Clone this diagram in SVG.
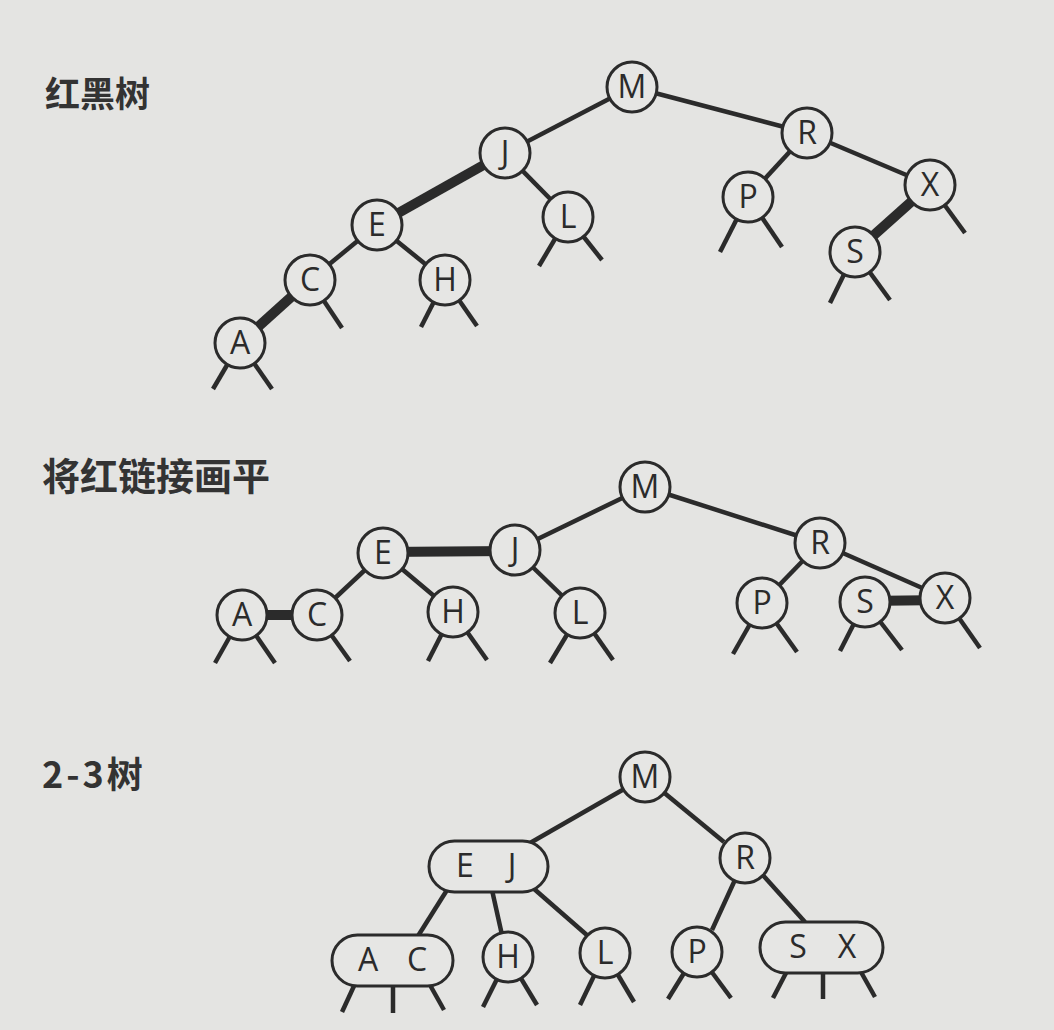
<svg xmlns="http://www.w3.org/2000/svg" width="1054" height="1030" viewBox="0 0 1054 1030">
<style>
.bg{fill:#e4e4e2}
.e{stroke:#2b2b2b;stroke-width:4.5;stroke-linecap:butt;fill:none}
.r{stroke:#2b2b2b;stroke-width:10;fill:none}
.n{fill:#e6e6e4;stroke:#2b2b2b;stroke-width:3}
.t{font-family:"Open Sans","DejaVu Sans",sans-serif;font-size:32px;fill:#2b2b2b;text-anchor:middle}
.h{font-family:"Noto Sans CJK SC","Noto Sans",sans-serif;font-weight:bold;fill:#333}
</style>
<rect class="bg" x="0" y="0" width="1054" height="1030"/>
<g id="labels">
<text class="h" x="45" y="107" font-size="35">红黑树</text>
<text class="h" x="42" y="490" font-size="38">将红链接画平</text>
<text class="h" x="42" y="788" font-size="36" letter-spacing="3">2-3树</text>
</g>
<g id="connectors">
<!-- top tree -->
<line class="e" x1="632" y1="87" x2="505" y2="153"/>
<line class="e" x1="632" y1="87" x2="807" y2="133"/>
<line class="r" x1="505" y1="153" x2="377" y2="225"/>
<line class="e" x1="505" y1="153" x2="568" y2="217"/>
<line class="e" x1="377" y1="225" x2="310" y2="280"/>
<line class="e" x1="377" y1="225" x2="445" y2="280"/>
<line class="r" x1="310" y1="280" x2="240" y2="343"/>
<line class="e" x1="807" y1="133" x2="748" y2="197"/>
<line class="e" x1="807" y1="133" x2="930" y2="185"/>
<line class="r" x1="930" y1="185" x2="855" y2="252"/>
<!-- top stubs -->
<line class="e" x1="240" y1="343" x2="213" y2="389"/>
<line class="e" x1="240" y1="343" x2="272" y2="389"/>
<line class="e" x1="310" y1="280" x2="342" y2="328"/>
<line class="e" x1="445" y1="280" x2="421" y2="327"/>
<line class="e" x1="445" y1="280" x2="477" y2="326"/>
<line class="e" x1="568" y1="217" x2="539" y2="266"/>
<line class="e" x1="568" y1="217" x2="602" y2="260"/>
<line class="e" x1="748" y1="197" x2="720" y2="252"/>
<line class="e" x1="748" y1="197" x2="782" y2="247"/>
<line class="e" x1="855" y1="252" x2="830" y2="303"/>
<line class="e" x1="855" y1="252" x2="890" y2="300"/>
<line class="e" x1="930" y1="185" x2="965" y2="233"/>
<!-- middle tree -->
<line class="e" x1="645" y1="487" x2="515" y2="550"/>
<line class="e" x1="645" y1="487" x2="820" y2="543"/>
<line class="r" x1="515" y1="551" x2="383" y2="552"/>
<line class="e" x1="515" y1="550" x2="580" y2="613"/>
<line class="e" x1="383" y1="553" x2="317" y2="615"/>
<line class="e" x1="383" y1="553" x2="453" y2="612"/>
<line class="r" x1="317" y1="615" x2="242" y2="615"/>
<line class="e" x1="820" y1="543" x2="762" y2="603"/>
<line class="e" x1="820" y1="543" x2="945" y2="598"/>
<line class="r" x1="865" y1="601" x2="945" y2="600"/>
<!-- middle stubs -->
<line class="e" x1="242" y1="615" x2="215" y2="663"/>
<line class="e" x1="242" y1="615" x2="275" y2="663"/>
<line class="e" x1="317" y1="615" x2="350" y2="661"/>
<line class="e" x1="453" y1="612" x2="428" y2="661"/>
<line class="e" x1="453" y1="612" x2="487" y2="660"/>
<line class="e" x1="580" y1="613" x2="550" y2="663"/>
<line class="e" x1="580" y1="613" x2="613" y2="660"/>
<line class="e" x1="762" y1="603" x2="733" y2="654"/>
<line class="e" x1="762" y1="603" x2="797" y2="652"/>
<line class="e" x1="865" y1="602" x2="840" y2="651"/>
<line class="e" x1="865" y1="602" x2="902" y2="650"/>
<line class="e" x1="945" y1="598" x2="980" y2="648"/>
<!-- bottom tree -->
<line class="e" x1="645" y1="777" x2="530" y2="843"/>
<line class="e" x1="645" y1="777" x2="724" y2="842"/>
<line class="e" x1="447" y1="890" x2="418" y2="936"/>
<line class="e" x1="492" y1="890" x2="502" y2="935"/>
<line class="e" x1="533" y1="888" x2="588" y2="936"/>
<line class="e" x1="745" y1="858" x2="712" y2="930"/>
<line class="e" x1="760" y1="872" x2="805" y2="922"/>
<!-- bottom stubs -->
<line class="e" x1="354" y1="986" x2="342" y2="1012"/>
<line class="e" x1="393" y1="986" x2="393" y2="1013"/>
<line class="e" x1="430" y1="985" x2="444" y2="1010"/>
<line class="e" x1="508" y1="957" x2="483" y2="1007"/>
<line class="e" x1="508" y1="957" x2="537" y2="1005"/>
<line class="e" x1="605" y1="953" x2="580" y2="1005"/>
<line class="e" x1="605" y1="953" x2="634" y2="1002"/>
<line class="e" x1="697" y1="952" x2="668" y2="999"/>
<line class="e" x1="697" y1="952" x2="731" y2="998"/>
<line class="e" x1="786" y1="973" x2="773" y2="998"/>
<line class="e" x1="823" y1="973" x2="823" y2="999"/>
<line class="e" x1="861" y1="972" x2="875" y2="997"/>
</g>
<g id="rb-M"><circle class="n" cx="632" cy="87" r="25"/><text class="t" x="632" y="98">M</text></g>
<g id="rb-J"><circle class="n" cx="505" cy="153" r="25"/><text class="t" x="505" y="164">J</text></g>
<g id="rb-E"><circle class="n" cx="377" cy="225" r="25"/><text class="t" x="377" y="236">E</text></g>
<g id="rb-L"><circle class="n" cx="568" cy="217" r="25"/><text class="t" x="568" y="228">L</text></g>
<g id="rb-C"><circle class="n" cx="310" cy="280" r="25"/><text class="t" x="310" y="291">C</text></g>
<g id="rb-H"><circle class="n" cx="445" cy="280" r="25"/><text class="t" x="445" y="291">H</text></g>
<g id="rb-A"><circle class="n" cx="240" cy="343" r="25"/><text class="t" x="240" y="354">A</text></g>
<g id="rb-R"><circle class="n" cx="807" cy="133" r="25"/><text class="t" x="807" y="144">R</text></g>
<g id="rb-P"><circle class="n" cx="748" cy="197" r="25"/><text class="t" x="748" y="208">P</text></g>
<g id="rb-X"><circle class="n" cx="930" cy="185" r="25"/><text class="t" x="930" y="196">X</text></g>
<g id="rb-S"><circle class="n" cx="855" cy="252" r="25"/><text class="t" x="855" y="263">S</text></g>

<g id="fl-M"><circle class="n" cx="645" cy="487" r="25"/><text class="t" x="645" y="498">M</text></g>
<g id="fl-J"><circle class="n" cx="515" cy="550" r="25"/><text class="t" x="515" y="561">J</text></g>
<g id="fl-E"><circle class="n" cx="383" cy="553" r="25"/><text class="t" x="383" y="564">E</text></g>
<g id="fl-A"><circle class="n" cx="242" cy="615" r="25"/><text class="t" x="242" y="626">A</text></g>
<g id="fl-C"><circle class="n" cx="317" cy="615" r="25"/><text class="t" x="317" y="626">C</text></g>
<g id="fl-H"><circle class="n" cx="453" cy="612" r="25"/><text class="t" x="453" y="623">H</text></g>
<g id="fl-L"><circle class="n" cx="580" cy="613" r="25"/><text class="t" x="580" y="624">L</text></g>
<g id="fl-R"><circle class="n" cx="820" cy="543" r="25"/><text class="t" x="820" y="554">R</text></g>
<g id="fl-P"><circle class="n" cx="762" cy="603" r="25"/><text class="t" x="762" y="614">P</text></g>
<g id="fl-S"><circle class="n" cx="865" cy="602" r="25"/><text class="t" x="865" y="613">S</text></g>
<g id="fl-X"><circle class="n" cx="945" cy="598" r="25"/><text class="t" x="945" y="609">X</text></g>

<g id="t23-M"><circle class="n" cx="645" cy="777" r="25"/><text class="t" x="645" y="788">M</text></g>
<g id="t23-EJ"><rect class="n" x="429" y="841" width="119" height="51" rx="25.5"/><text class="t" x="465" y="877">E</text><text class="t" x="512" y="877">J</text></g>
<g id="t23-R"><circle class="n" cx="745" cy="858" r="25"/><text class="t" x="745" y="869">R</text></g>
<g id="t23-AC"><rect class="n" x="332" y="935" width="121" height="51" rx="25.5"/><text class="t" x="368" y="971">A</text><text class="t" x="417" y="971">C</text></g>
<g id="t23-H"><circle class="n" cx="508" cy="957" r="25"/><text class="t" x="508" y="968">H</text></g>
<g id="t23-L"><circle class="n" cx="605" cy="953" r="25"/><text class="t" x="605" y="964">L</text></g>
<g id="t23-P"><circle class="n" cx="697" cy="952" r="25"/><text class="t" x="697" y="963">P</text></g>
<g id="t23-SX"><rect class="n" x="760" y="922" width="123" height="51" rx="25.5"/><text class="t" x="798" y="958">S</text><text class="t" x="847" y="958">X</text></g>
</svg>
